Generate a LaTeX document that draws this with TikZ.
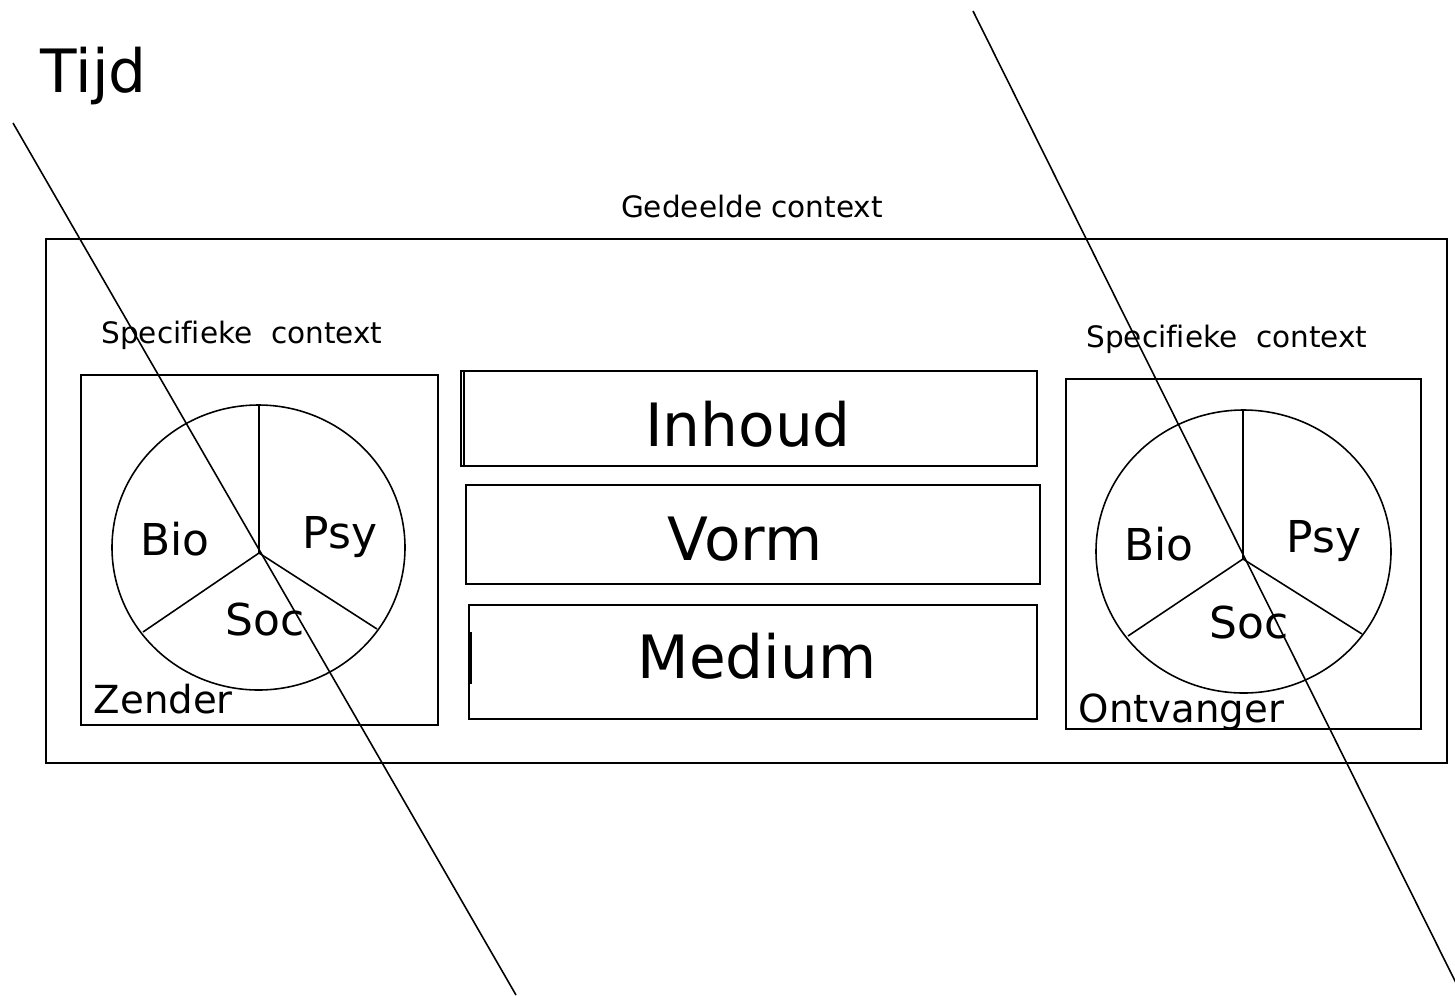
\documentclass[tikz,border=0pt]{standalone}
\usepackage{fontspec}
\setmainfont[Ligatures=CommonOff]{DejaVu Sans}
\begin{document}
\begin{tikzpicture}[x=0.02cm, y=-0.02cm, line width=0.9pt]
\tikzstyle{txt}=[inner sep=0pt, anchor=base]
\tikzstyle{big}=[txt, font=\fontsize{34}{40}\selectfont]
\tikzstyle{part}=[txt, font=\fontsize{25}{30}\selectfont]
\tikzstyle{who}=[txt, anchor=base west, font=\fontsize{22}{26}\selectfont]
\tikzstyle{ctx}=[txt, font=\fontsize{16.8}{20}\selectfont]

\useasboundingbox (0,0) rectangle (1455,995);

\coordinate (shared_nw) at (46,239);
\coordinate (shared_se) at (1447,763);

\coordinate (spec_1_nw) at (81,375);
\coordinate (spec_1_se) at (438,725);
\coordinate (spec_2_nw) at (1066,379);
\coordinate (spec_2_se) at (1421,729);

\coordinate (inhoud_nw) at (461,371);
\coordinate (inhoud_se) at (1037,466);
\coordinate (vorm_nw) at (466,485);
\coordinate (vorm_se) at (1040,584);
\coordinate (medium_nw) at (469,605);
\coordinate (medium_se) at (1037,719);

\coordinate (circ_1) at (258.5,547.5);
\coordinate (pie_1) at (259,553);
\coordinate (pie_1_top) at (259,405);
\coordinate (pie_1_left) at (143,632);
\coordinate (pie_1_right) at (377,629);

\coordinate (circ_2) at (1243.5,551.5);
\coordinate (pie_2) at (1243,559);
\coordinate (pie_2_top) at (1243,409);
\coordinate (pie_2_left) at (1128,636);
\coordinate (pie_2_right) at (1362,634);

\coordinate (t_1_start) at (13,123);
\coordinate (t_1_end) at (516,995);
\coordinate (t_2_start) at (973,11);
\coordinate (t_2_end) at (1457,985);


\node[big, anchor=base west] (tijd) at (40,92) {Tijd};
\node[ctx] (shared) at (752,217) {Gedeelde context};
\node[ctx] (spec_1) at (242,343) {Specifieke~ context};
\node[ctx] (spec_2) at (1227,347) {Specifieke~ context};

\node[big] (inhoud) at (748,446) {Inhoud};
\node[big] (vorm) at (745,560) {Vorm};
\node[big] (medium) at (757,678) {Medium};

\node[part] (bio_1) at (175,555) {Bio};
\node[part] (psy_1) at (340,548) {Psy};
\node[part] (soc_1) at (265,635) {Soc};
\node[who] (zender) at (93,713) {Zender};

\node[part] (bio_2) at (1159,560) {Bio};
\node[part] (psy_2) at (1324,552) {Psy};
\node[part] (soc_2) at (1249,638) {Soc};
\node[who] (ontvanger) at (1078,722) {Ontvanger};

\draw (shared_nw) rectangle (shared_se);
\draw (spec_1_nw) rectangle (spec_1_se);
\draw (spec_2_nw) rectangle (spec_2_se);

\draw (inhoud_nw) rectangle (inhoud_se);
\draw ([xshift=0.06cm]inhoud_nw) -- ([xshift=0.06cm]inhoud_nw |- inhoud_se);
\draw (vorm_nw) rectangle (vorm_se);
\draw (medium_nw) rectangle (medium_se);
\draw[line width=1.3pt] (471,632) -- (471,684);

\draw (circ_1) ellipse [x radius=146.5, y radius=142.5];
\draw (pie_1) -- (pie_1_top);
\draw (pie_1) -- (pie_1_left);
\draw (pie_1) -- (pie_1_right);

\draw (circ_2) ellipse [x radius=147.5, y radius=141.5];
\draw (pie_2) -- (pie_2_top);
\draw (pie_2) -- (pie_2_left);
\draw (pie_2) -- (pie_2_right);

\draw (t_1_start) -- (t_1_end);
\draw (t_2_start) -- (t_2_end);

\end{tikzpicture}
\end{document}
